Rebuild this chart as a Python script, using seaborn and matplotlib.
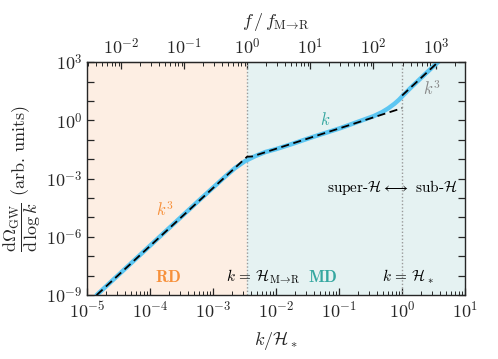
import numpy as np
import pandas as pd
import matplotlib
matplotlib.use("Agg")
import matplotlib.pyplot as plt
import matplotlib.ticker as mticker
import seaborn as sns

# transition scale k = H_{M->R} (in units of H_*)
k_MR = 3.5e-3

# blue curve: full spectrum (log10 values)
full_logk = [-4.85, -4.0, -3.2, -2.8, -2.65, -2.49, -2.33, -2.17, -2.0, -1.75,
             -1.46, -0.98, -0.62, -0.45, -0.32, -0.22, -0.12, -0.05, 0.02, 0.13, 0.40, 0.62]
full_logO = [-9.0, -6.45, -4.05, -2.87, -2.45, -2.09, -1.84, -1.63, -1.48, -1.22,
             -0.90, -0.40, 0.02, 0.22, 0.42, 0.62, 0.86, 1.06, 1.30, 1.66, 2.49, 3.15]

# dashed approximations: k^3 (RD) then k (MD)
approx_logk = [-4.85, -2.46, -2.38, 0.0]
approx_logO = [-9.0, -1.87, -1.86, 0.63]
# k^3 on sub-horizon scales
sub_logk = [0.0, 0.62]
sub_logO = [1.28, 3.15]

full = pd.DataFrame({"k": 10.0 ** np.array(full_logk), "O": 10.0 ** np.array(full_logO)})
approx = pd.DataFrame({"k": 10.0 ** np.array(approx_logk), "O": 10.0 ** np.array(approx_logO)})
sub = pd.DataFrame({"k": 10.0 ** np.array(sub_logk), "O": 10.0 ** np.array(sub_logO)})

sns.set_style("ticks")
plt.rcParams["font.family"] = "serif"
plt.rcParams["font.serif"] = ["cmr10", "DejaVu Serif"]
plt.rcParams["mathtext.fontset"] = "cm"
plt.rcParams["axes.formatter.use_mathtext"] = True
plt.rcParams["axes.unicode_minus"] = False

orange = "#f7903a"
teal = "#35a7a0"

fig = plt.figure(figsize=(4.98, 3.59), dpi=100)
ax = fig.add_axes([0.175, 0.178, 0.759, 0.649])

ax.axvspan(1e-5, k_MR, color="#fdeee3", lw=0, zorder=0)
ax.axvspan(k_MR, 10, color="#e5f2f2", lw=0, zorder=0)

sns.lineplot(data=full, x="k", y="O", ax=ax, color="#5bc6f2", lw=3.2, sort=False, zorder=2)
sns.lineplot(data=approx, x="k", y="O", ax=ax, color="black", lw=1.3, sort=False, zorder=3)
ax.lines[-1].set_dashes([4.5, 2.5])
sns.lineplot(data=sub, x="k", y="O", ax=ax, color="black", lw=1.3, sort=False, zorder=3)
ax.lines[-1].set_dashes([4.5, 2.5])

for xv in [k_MR, 1.0]:
    ax.axvline(xv, color="#999999", ls=(0, (1, 1.5)), lw=1.0, zorder=1)

ax.set_xscale("log")
ax.set_yscale("log")
ax.set_xlim(1e-5, 10)
ax.set_ylim(1e-9, 1e3)

ax.yaxis.set_major_locator(mticker.FixedLocator([10.0 ** e for e in range(-9, 4)]))
ax.yaxis.set_minor_locator(mticker.NullLocator())
ax.yaxis.set_major_formatter(mticker.FuncFormatter(
    lambda v, p: r"$10^{%d}$" % round(np.log10(v)) if round(np.log10(v)) % 3 == 0 else ""))
ax.xaxis.set_major_locator(mticker.FixedLocator([10.0 ** e for e in range(-5, 2)]))
ax.xaxis.set_minor_locator(mticker.LogLocator(base=10, subs=np.arange(2, 10), numticks=20))

ax.tick_params(which="both", direction="in", top=False, right=True, labelsize=13)
ax.tick_params(which="major", length=5, width=0.9)
ax.tick_params(which="minor", length=3, width=0.7)
for s in ax.spines.values():
    s.set_linewidth(1.0)

top = ax.secondary_xaxis("top", functions=(lambda k: k / k_MR, lambda f: f * k_MR))
top.xaxis.set_major_locator(mticker.FixedLocator([10.0 ** e for e in range(-2, 4)]))
top.xaxis.set_major_formatter(mticker.FuncFormatter(lambda v, p: r"$10^{%d}$" % round(np.log10(v))))
top.xaxis.set_minor_locator(mticker.LogLocator(base=10, subs=np.arange(2, 10), numticks=20))
top.tick_params(which="both", direction="in", labelsize=13)
top.tick_params(which="major", length=5, width=0.9)
top.tick_params(which="minor", length=3, width=0.7)
top.set_xlabel(r"$f\,/\,f_{\rm M\!\rightarrow\!R}$", fontsize=13, labelpad=8)

ax.set_xlabel(r"$k/\mathcal{H}_*$", fontsize=13, labelpad=6)
ax.set_ylabel(r"$\dfrac{\mathrm{d}\Omega_{\rm GW}}{\mathrm{d}\,\log k}$ (arb. units)", fontsize=13, labelpad=2)

ax.text(10 ** -3.76, 10 ** -4.6, r"$k^3$", color=orange, fontsize=12, ha="center", va="center")
ax.text(10 ** -3.71, 10 ** -8.06, r"$\mathbf{RD}$", color=orange, fontsize=12, ha="center", va="center")
ax.text(10 ** -1.254, 10 ** -8.06, r"$\mathbf{MD}$", color=teal, fontsize=12, ha="center", va="center")
ax.text(10 ** -2.2, 10 ** -8.06, r"$k\,=\,\mathcal{H}_{\rm M\!\rightarrow\!R}$", color="black",
        fontsize=11, ha="center", va="center")
ax.text(10 ** 0.095, 10 ** -8.06, r"$k\,=\,\mathcal{H}_*$", color="black", fontsize=11,
        ha="center", va="center")
ax.text(10 ** -1.22, 10 ** 0.02, r"$k$", color=teal, fontsize=12, ha="center", va="center")
ax.text(10 ** 0.48, 10 ** 1.66, r"$k^3$", color="#888888", fontsize=12, ha="center", va="center")
ax.text(10 ** -0.16, 10 ** -3.48, r"super-$\mathcal{H}\longleftrightarrow$ sub-$\mathcal{H}$",
        color="black", fontsize=11, ha="center", va="center")

fig.savefig("out.png", dpi=100)
